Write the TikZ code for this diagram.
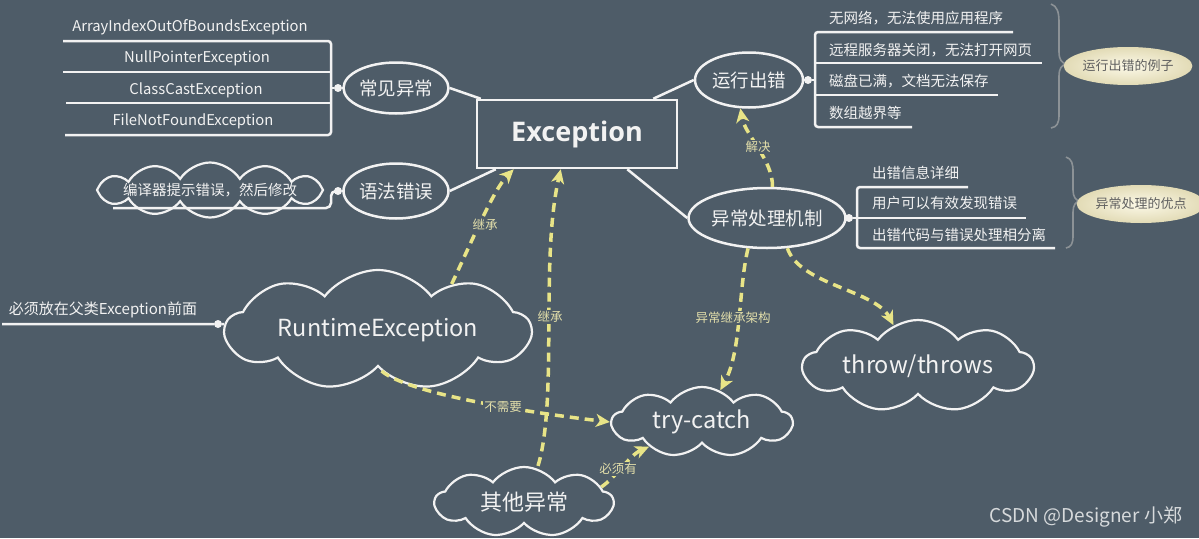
\documentclass[tikz,border=0pt]{standalone}
\usepackage{fontspec}
\setmainfont{Noto Sans CJK SC}
\newfontfamily\osb{Open Sans}
\usetikzlibrary{shapes.geometric,shapes.symbols,arrows.meta}
\definecolor{bg}{RGB}{78,92,104}
\definecolor{wl}{RGB}{242,242,242}
\definecolor{yl}{RGB}{232,228,135}
\definecolor{lbl}{RGB}{226,222,170}
\definecolor{brc}{RGB}{140,146,150}
\definecolor{crm}{RGB}{252,249,232}
\definecolor{crmd}{RGB}{226,219,182}
\definecolor{crmtxt}{RGB}{95,95,95}
\definecolor{wmk}{RGB}{215,218,220}
\newcommand{\fs}[1]{\fontsize{#1}{#1}\selectfont}
\tikzset{
 wline/.style={draw=wl, line width=2.5pt},
 oval/.style={ellipse, draw=wl, line width=2.5pt, inner sep=0pt, text=wl, font=\fs{18.5}},
 cld/.style={cloud, draw=wl, line width=2.2pt, cloud ignores aspect, inner sep=0pt, text=wl, cloud puff arc=105},
 item/.style={text=wl, font=\fs{14.5}, inner sep=0pt, anchor=west},
 litem/.style={text=wl, font=\fs{14.8}, inner sep=0pt},
 dot/.style={circle, fill=wl, inner sep=0pt, minimum size=8pt},
 yarrow/.style={draw=yl, line width=3.5pt, dash pattern=on 9pt off 6pt, -{Stealth[length=14pt,width=13pt,inset=4pt]}},
 lab/.style={text=lbl, font=\fs{12.5}, fill=bg, inner sep=1pt},
 brace/.style={draw=brc, line width=1.6pt},
 crmoval/.style={ellipse, inner sep=0pt, inner color=crm, outer color=crmd, text=crmtxt, font=\fs{13}}
}
\begin{document}
\begin{tikzpicture}[x=1pt,y=1pt]
\fill[bg] (0,0) rectangle (1199,-538);
\useasboundingbox (0,0) rectangle (1199,-538);

% central box
\node[draw=wl, line width=2.5pt, minimum width=200pt, minimum height=68pt, inner sep=0pt, text=wl, font=\osb\bfseries\fs{27}] (exc) at (577,-134) {Exception};

% ovals
\node[oval, minimum width=105pt, minimum height=51pt] (cj) at (396,-88) {常见异常};
\node[oval, minimum width=105pt, minimum height=55pt] (yf) at (396,-191) {语法错误};
\node[oval, minimum width=108pt, minimum height=55pt] (yx) at (749,-80) {运行出错};
\node[oval, minimum width=144pt, minimum height=60pt] (yc) at (767,-218) {异常处理机制};

% clouds
\node[cld, cloud puffs=9, minimum width=305pt, minimum height=120pt, font=\fs{23.5}] (rt) at (378,-330) {\makebox[0pt]{RuntimeException}};
\node[cld, cloud puffs=9, minimum width=180pt, minimum height=70pt, font=\fs{23.5}] (tc) at (702,-422) {\makebox[0pt]{try-catch}};
\node[cld, cloud puffs=9, minimum width=230pt, minimum height=92pt, font=\fs{23.5}] (tt) at (918,-366) {\makebox[0pt]{throw/throws}};
\node[cld, cloud puffs=9, minimum width=178pt, minimum height=70pt, font=\fs{22}] (qt) at (524,-502) {\makebox[0pt]{其他异常}};
\node[cld, cloud puffs=12, cloud puff arc=115, minimum width=226pt, minimum height=55pt, font=\fs{14.5}] (by) at (210,-190) {\makebox[0pt]{编译器提示错误，然后修改}};

% connections to central box
\draw[wline] (cj.east) -- ([xshift=5pt]exc.north west);
\draw[wline] (yf.east) -- ([xshift=20pt]exc.south west);
\draw[wline] ([xshift=-25pt]exc.north east) -- (yx.west);
\draw[wline] ([xshift=-51pt]exc.south east) -- (yc.west);

% left list
\node[litem] (a1) at (190,-27) {ArrayIndexOutOfBoundsException};
\node[litem] (a2) at (197,-58) {NullPointerException};
\node[litem] (a3) at (196,-90) {ClassCastException};
\node[litem] (a4) at (193,-121) {FileNotFoundException};
\draw[wline, rounded corners=3pt] (63,-41) -- (331,-41) -- (331,-135) -- (65,-135);
\draw[wline] (63,-72) -- (331,-72);
\draw[wline] (66,-103) -- (331,-103);
\node[dot] (d1) at (338,-88) {};
\draw[wline] (331,-88) -- (d1) -- (cj);

% syntax error
\draw[wline, rounded corners=5pt] (113,-208) -- (331,-208) -- (331,-191) -- (338,-191);
\node[dot] (d2) at (338,-191) {};
\draw[wline] (d2) -- (yf);

% runtime exception note
\node[text=wl, font=\fs{15}, inner sep=0pt] (bx) at (103,-310) {必须放在父类Exception前面};
\node[dot] (d3) at (218,-324) {};
\draw[wline] (2,-324) -- (d3) -- (rt);

% right list 1
\node[item] (r1) at (829,-18) {无网络，无法使用应用程序};
\node[item] (r2) at (829,-50) {远程服务器关闭，无法打开网页};
\node[item] (r3) at (829,-81) {磁盘已满，文档无法保存};
\node[item] (r4) at (829,-113) {数组越界等};
\draw[wline, rounded corners=3pt] (1013,-32) -- (815,-32) -- (815,-127) -- (912,-127);
\draw[wline] (815,-63) -- (1042,-63);
\draw[wline] (815,-95) -- (998,-95);
\node[dot] (d4) at (808,-80) {};
\draw[wline] (yx) -- (d4) -- (815,-80);

% right list 2
\node[item] (s1) at (872,-173) {出错信息详细};
\node[item] (s2) at (872,-203) {用户可以有效发现错误};
\node[item] (s3) at (872,-235) {出错代码与错误处理相分离};
\draw[wline, rounded corners=3pt] (968,-187) -- (857,-187) -- (857,-248) -- (1055,-248);
\draw[wline] (857,-218) -- (1026,-218);
\node[dot] (d5) at (849,-218) {};
\draw[wline] (yc) -- (d5) -- (857,-218);

% braces
\draw[brace] (1051,-4) .. controls (1057,-6) and (1059,-12) .. (1059,-22) -- (1059,-52) .. controls (1059,-60) and (1062,-63) .. (1066,-64) .. controls (1062,-65) and (1059,-68) .. (1059,-76) -- (1059,-115) .. controls (1059,-123) and (1057,-127) .. (1051,-128);
\draw[brace] (1066,-157) .. controls (1072,-159) and (1073,-164) .. (1073,-172) -- (1073,-190) .. controls (1073,-197) and (1076,-200) .. (1079,-201) .. controls (1076,-202) and (1073,-205) .. (1073,-212) -- (1073,-236) .. controls (1073,-244) and (1071,-247) .. (1066,-248);
\node[crmoval, minimum width=110pt, minimum height=38pt] (e1) at (1128,-66) {运行出错的例子};
\node[crmoval, minimum width=112pt, minimum height=38pt] (e2) at (1141,-204) {异常处理的优点};

% yellow dashed arrows
\draw[yarrow] (rt.32) .. controls (468,-250) and (493,-190) .. ([xshift=38pt]exc.south west);
\draw[yarrow] ([xshift=14pt]qt.north) .. controls (558,-400) and (540,-260) .. ([xshift=85pt]exc.south west);
\draw[yarrow] (rt.-85) .. controls (410,-395) and (540,-414) .. (tc.west);
\draw[yarrow] (qt.11) .. controls (615,-478) and (630,-455) .. (tc.205);
\draw[yarrow] (yc.238) .. controls (738,-290) and (742,-350) .. (tc.60);
\draw[yarrow] (yc.-56) .. controls (800,-285) and (875,-290) .. (tt.121);
\draw[yarrow] (yc.80) .. controls (773,-160) and (745,-135) .. (yx.253);

% labels
\node[lab] (l1) at (485,-225) {继承};
\node[lab] (l2) at (550,-317) {继承};
\node[lab] (l3) at (503,-407) {不需要};
\node[lab] (l4) at (618,-469) {必须有};
\node[lab] (l5) at (733,-318) {异常继承架构};
\node[lab] (l6) at (758,-147) {解决};

% watermark
\node[text=wmk, font=\fs{19}, inner sep=0pt] (wm) at (1086,-517) {CSDN @Designer 小郑};
\end{tikzpicture}
\end{document}
